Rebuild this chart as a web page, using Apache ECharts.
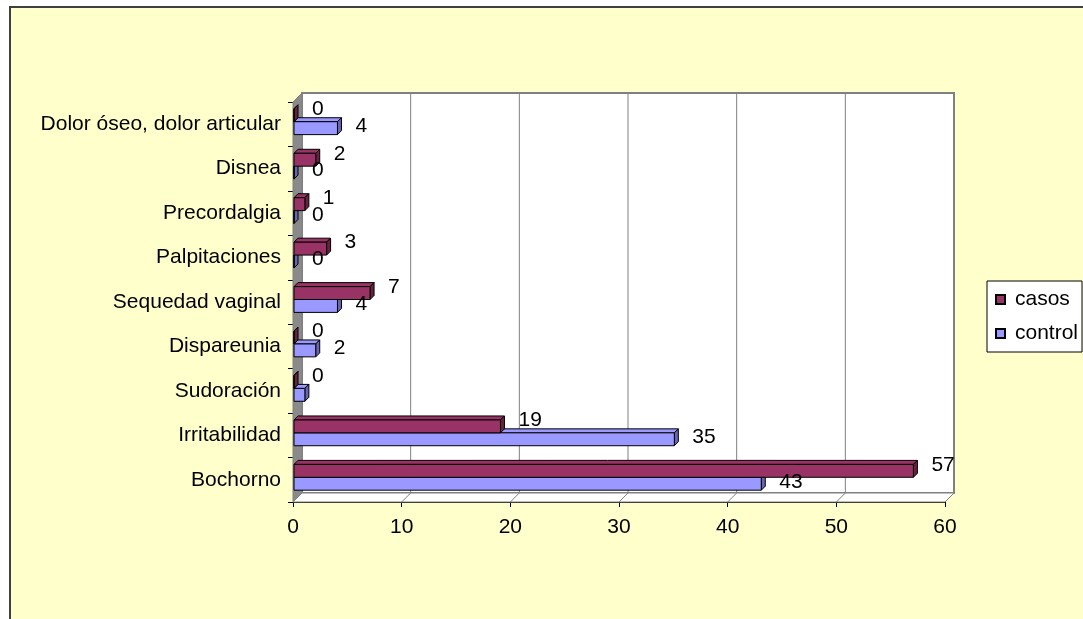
<!DOCTYPE html>
<html>
<head>
<meta charset="utf-8">
<script src="https://cdn.jsdelivr.net/npm/echarts@6/dist/echarts.min.js"></script>
<style>
  html, body { margin: 0; padding: 0; background: #ffffff; }
  #chart { width: 1083px; height: 619px; }
</style>
</head>
<body>
<div id="chart"></div>
<script>
// Symptom counts per group, listed bottom to top
const categories = ['Bochorno', 'Irritabilidad', 'Sudoración', 'Dispareunia', 'Sequedad vaginal',
  'Palpitaciones', 'Precordalgia', 'Disnea', 'Dolor óseo, dolor articular'];
const casos = [57, 19, 0, 0, 7, 3, 1, 2, 0];
const control = [43, 35, 1, 2, 4, 0, 0, 0, 4];
// value labels not printed for these control bars
const controlUnlabelled = ['Sudoración'];
const xTicks = [0, 10, 20, 30, 40, 50, 60];

const FONT = '"Liberation Sans", Arial, sans-serif';
const FONT_SIZE = 21;
const WALL_DEPTH = [9, -9];   // offset of the back wall from the front plane
const BAR_DEPTH = [4, -4];    // depth of each 3D bar

const chart = echarts.init(document.getElementById('chart'), null, { renderer: 'canvas' });

// Back wall, left wall and floor of the 3D plot box
function renderFrame(params, api) {
  const cs = params.coordSys;
  const x = cs.x, y = cs.y, w = cs.width, h = cs.height;
  const dx = WALL_DEPTH[0], dy = WALL_DEPTH[1];
  const children = [];
  children.push({
    type: 'rect',
    shape: { x: x + dx, y: y + dy, width: w, height: h },
    style: { fill: '#ffffff', stroke: '#808080', lineWidth: 2 }
  });
  xTicks.forEach(function (v) {
    if (v === xTicks[0] || v === xTicks[xTicks.length - 1]) return;
    const px = api.coord([v, 0])[0];
    children.push({
      type: 'line',
      shape: { x1: px + dx, y1: y + dy, x2: px + dx, y2: y + h + dy },
      style: { stroke: '#808080', lineWidth: 1 }
    });
  });
  children.push({
    type: 'polygon',
    shape: { points: [[x, y + h], [x + dx, y + h + dy], [x + w + dx, y + h + dy], [x + w, y + h]] },
    style: { fill: '#ffffff', stroke: '#808080', lineWidth: 1 }
  });
  xTicks.forEach(function (v) {
    const px = api.coord([v, 0])[0];
    children.push({
      type: 'line',
      shape: { x1: px, y1: y + h, x2: px + dx, y2: y + h + dy },
      style: { stroke: '#808080', lineWidth: 1 }
    });
  });
  children.push({
    type: 'polygon',
    shape: { points: [[x, y], [x + dx, y + dy], [x + dx, y + h + dy], [x, y + h]] },
    style: { fill: '#8a8a8a', stroke: '#808080', lineWidth: 1 }
  });
  return { type: 'group', children: children };
}

// Vertical placement of a bar inside its category band
function barBox(slot, api) {
  const val = api.value(0);
  const idx = api.value(1);
  const base = api.coord([0, idx]);
  const end = api.coord([val, idx]);
  const band = api.size([0, 1])[1];
  const h = band * 0.29;
  const mid = base[1] - band * 0.056;
  const top = slot === 0 ? mid - h : mid;
  return { val: val, idx: idx, x0: base[0] + 1, x1: end[0] + 1, top: top, h: h };
}

// 3D horizontal bar: top face, end face and front face
function barRenderer(slot, front, side) {
  return function (params, api) {
    const b = barBox(slot, api);
    const dx = BAR_DEPTH[0], dy = BAR_DEPTH[1];
    const stroke = { stroke: '#000000', lineWidth: 1 };
    return {
      type: 'group',
      children: [
        {
          type: 'polygon',
          shape: { points: [[b.x0, b.top], [b.x0 + dx, b.top + dy], [b.x1 + dx, b.top + dy], [b.x1, b.top]] },
          style: Object.assign({ fill: front }, stroke)
        },
        {
          type: 'polygon',
          shape: { points: [[b.x1, b.top], [b.x1 + dx, b.top + dy], [b.x1 + dx, b.top + b.h + dy], [b.x1, b.top + b.h]] },
          style: Object.assign({ fill: side }, stroke)
        },
        {
          type: 'rect',
          shape: { x: b.x0, y: b.top, width: Math.max(b.x1 - b.x0, 0), height: b.h },
          style: Object.assign({ fill: front }, stroke)
        }
      ]
    };
  };
}

// Value label printed just past the end of each bar
function labelRenderer(slot, unlabelled, lift) {
  return function (params, api) {
    const b = barBox(slot, api);
    if (unlabelled.indexOf(categories[b.idx]) >= 0) return null;
    return {
      type: 'text',
      style: {
        text: String(b.val), x: b.x1 + 18, y: b.top + b.h / 2 - lift,
        fill: '#000000', font: FONT_SIZE + 'px ' + FONT, align: 'left', verticalAlign: 'middle'
      }
    };
  };
}

const axisText = { fontSize: FONT_SIZE, fontFamily: FONT, color: '#000000' };

const option = {
  backgroundColor: '#ffffff',
  animation: false,
  textStyle: { fontFamily: FONT, color: '#000000' },
  graphic: [{
    type: 'rect', z: -10, silent: true,
    shape: { x: 10, y: 7, width: 2000, height: 2000 },
    style: { fill: '#ffffcc', stroke: '#404040', lineWidth: 2 }
  }],
  grid: { left: 293, right: 138, top: 102, bottom: 117, containLabel: false },
  legend: {
    data: ['casos', 'control'],
    orient: 'vertical',
    left: 987, top: 281,
    width: 94,
    padding: [8, 4, 8, 8],
    itemGap: 13,
    itemWidth: 9, itemHeight: 9,
    icon: 'rect',
    backgroundColor: '#ffffff',
    borderColor: '#000000', borderWidth: 1,
    textStyle: Object.assign({ padding: [0, 0, 0, 5] }, axisText)
  },
  xAxis: {
    type: 'value',
    min: xTicks[0], max: xTicks[xTicks.length - 1], interval: 10,
    axisLine: { show: true, lineStyle: { color: '#000000', width: 1 } },
    axisTick: { show: true, length: 5, lineStyle: { color: '#000000' } },
    axisLabel: Object.assign({ margin: 15 }, axisText),
    splitLine: { show: false }
  },
  yAxis: {
    type: 'category',
    data: categories,
    axisLine: { show: true, lineStyle: { color: '#000000', width: 1 } },
    axisTick: { show: true, length: 5, lineStyle: { color: '#000000' } },
    axisLabel: Object.assign({ margin: 12 }, axisText),
    splitLine: { show: false }
  },
  series: [
    {
      name: 'frame', type: 'custom', silent: true, z: 1, clip: false,
      data: [[0, 0]],
      renderItem: renderFrame
    },
    {
      name: 'casos', type: 'custom', z: 4, clip: false,
      itemStyle: { color: '#993366', borderColor: '#000000', borderWidth: 1 },
      data: casos.map(function (v, i) { return [v, i]; }),
      encode: { x: 0, y: 1 },
      renderItem: barRenderer(0, '#993366', '#66223f')
    },
    {
      name: 'control', type: 'custom', z: 3, clip: false,
      itemStyle: { color: '#9999ff', borderColor: '#000000', borderWidth: 1 },
      data: control.map(function (v, i) { return [v, i]; }),
      encode: { x: 0, y: 1 },
      renderItem: barRenderer(1, '#9999ff', '#6666b3')
    },
    {
      name: 'casos-valores', type: 'custom', z: 6, clip: false, silent: true,
      data: casos.map(function (v, i) { return [v, i]; }),
      encode: { x: 0, y: 1 },
      renderItem: labelRenderer(0, [], 6)
    },
    {
      name: 'control-valores', type: 'custom', z: 6, clip: false, silent: true,
      data: control.map(function (v, i) { return [v, i]; }),
      encode: { x: 0, y: 1 },
      renderItem: labelRenderer(1, controlUnlabelled, 2)
    }
  ]
};

chart.setOption(option);
</script>
</body>
</html>
